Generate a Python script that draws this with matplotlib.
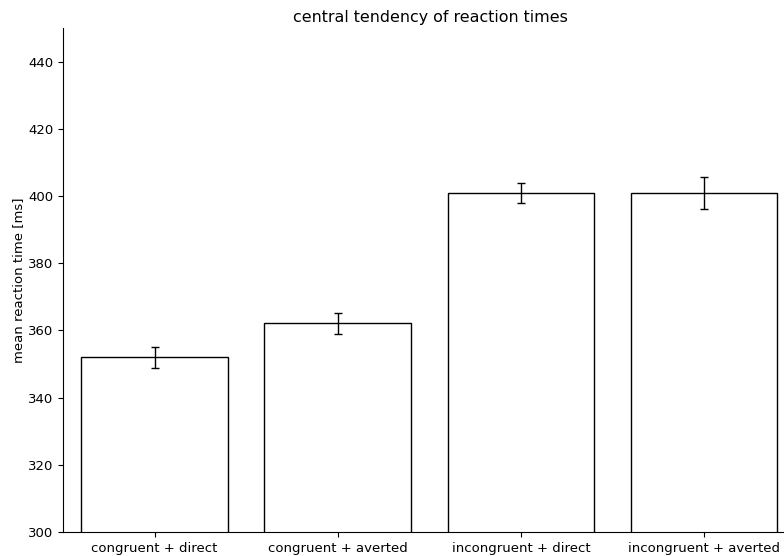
import numpy as np
import matplotlib
matplotlib.use("Agg")
import matplotlib.pyplot as plt

# mean reaction times per condition, with error bars
conditions = ["congruent + direct", "congruent + averted",
              "incongruent + direct", "incongruent + averted"]
means = [352.0, 362.1, 401.0, 401.0]
errors = [3.1, 3.2, 3.0, 4.8]

fig = plt.figure(figsize=(7.84, 5.56), dpi=100)
ax = fig.add_axes([63 / 784, 24 / 556, (795.5 - 63) / 784, 504 / 556])

x = np.arange(len(conditions))
ax.bar(x, means, width=0.8, color="white", edgecolor="black", linewidth=1.0,
       yerr=errors, capsize=3,
       error_kw=dict(ecolor="black", elinewidth=1.0, capthick=1.0))

ax.set_xlim(-0.5, 3.5)
ax.set_ylim(300, 450)
ax.set_yticks(np.arange(300, 441, 20))
ax.set_xticks(x)
ax.set_xticklabels(conditions, fontsize=9.5)
ax.tick_params(axis="y", labelsize=9.5)
ax.tick_params(direction="out", length=3.5, width=0.8)

ax.spines["top"].set_visible(False)
ax.spines["right"].set_visible(False)

ax.set_ylabel("mean reaction time [ms]", fontsize=9.5, labelpad=2)
ax.set_title("central tendency of reaction times", fontsize=11.4,
             x=(430 - 63) / (795.5 - 63), pad=4)

fig.savefig("out.png", dpi=100)
